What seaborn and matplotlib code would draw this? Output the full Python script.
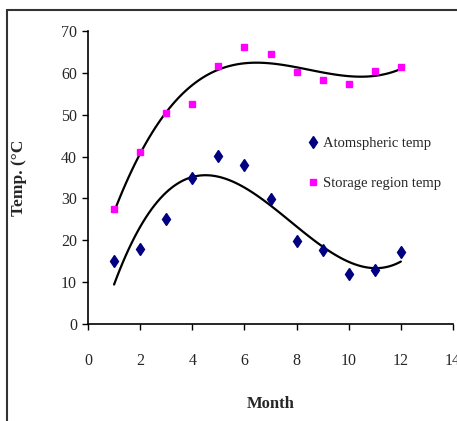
import numpy as np
import pandas as pd
import matplotlib
matplotlib.use("Agg")
import matplotlib.pyplot as plt
from matplotlib.lines import Line2D
import seaborn as sns

# values
months = [1, 2, 3, 4, 5, 6, 7, 8, 9, 10, 11, 12]
atmos_temp = [15.0, 17.8, 25.0, 34.9, 40.1, 38.1, 29.8, 19.9, 17.7, 11.9, 12.9, 17.1]
storage_temp = [27.5, 41.0, 50.3, 52.5, 61.6, 66.2, 64.5, 60.2, 58.4, 57.3, 60.4, 61.4]
x_ticks = [0, 2, 4, 6, 8, 10, 12, 14]
y_ticks = [0, 10, 20, 30, 40, 50, 60, 70]

df = pd.DataFrame({"month": months, "atmos": atmos_temp, "storage": storage_temp})

sns.set_style("white")
plt.rcParams['font.family'] = ['Liberation Serif', 'DejaVu Serif']

W, H = 457, 421
fig = plt.figure(figsize=(W / 100, H / 100), dpi=100)
ax = fig.add_axes([88 / W, 1 - 324 / H, 365 / W, 293 / H])

# polynomial trend lines (order 3), as in the original spreadsheet chart
sns.regplot(data=df, x="month", y="atmos", order=3, ci=None, scatter=False,
            color="black", line_kws={"lw": 1.6}, ax=ax)
sns.regplot(data=df, x="month", y="storage", order=3, ci=None, scatter=False,
            color="black", line_kws={"lw": 1.6}, ax=ax)

ax.plot(df["month"], df["atmos"], ls="none", marker="d", ms=6, color="#000080",
        label="Atomspheric temp", zorder=3)
ax.plot(df["month"], df["storage"], ls="none", marker="s", ms=4.2, color="#FF00FF",
        label="Storage region temp", zorder=3)

ax.set_xlim(0, 14)
ax.set_ylim(0, 70)
ax.set_xticks(x_ticks)
ax.set_yticks(y_ticks)
for s in ["top", "right"]:
    ax.spines[s].set_visible(False)
for s in ["left", "bottom"]:
    ax.spines[s].set_color("black")
    ax.spines[s].set_linewidth(1.2)
ax.tick_params(axis="both", direction="out", length=4, width=1, color="black",
               labelsize=11.5, left=True, bottom=True)
ax.tick_params(axis="x", pad=17)
ax.tick_params(axis="y", pad=4)

ax.set_xlabel("Month", fontsize=12, fontweight="bold")
ax.set_ylabel("Temp. (\u00b0C", fontsize=12.5, fontweight="bold")
ax.xaxis.set_label_coords(0.5, -0.245)
ax.yaxis.set_label_coords(-0.167, 0.5)

ax.legend(loc="upper left", bbox_to_anchor=(0.6, 0.638), frameon=False,
          fontsize=10.5, handlelength=0.8, handletextpad=0.3, labelspacing=1.85,
          borderpad=0, borderaxespad=0)

# outer frame (left and top edges visible)
fig.add_artist(Line2D([7 / W, 7 / W], [0, 1 - 10 / H], color="#333333", lw=1.5))
fig.add_artist(Line2D([7 / W, 1], [1 - 10 / H, 1 - 10 / H], color="#333333", lw=1.5))

fig.savefig("out.png", dpi=100, facecolor="white")
